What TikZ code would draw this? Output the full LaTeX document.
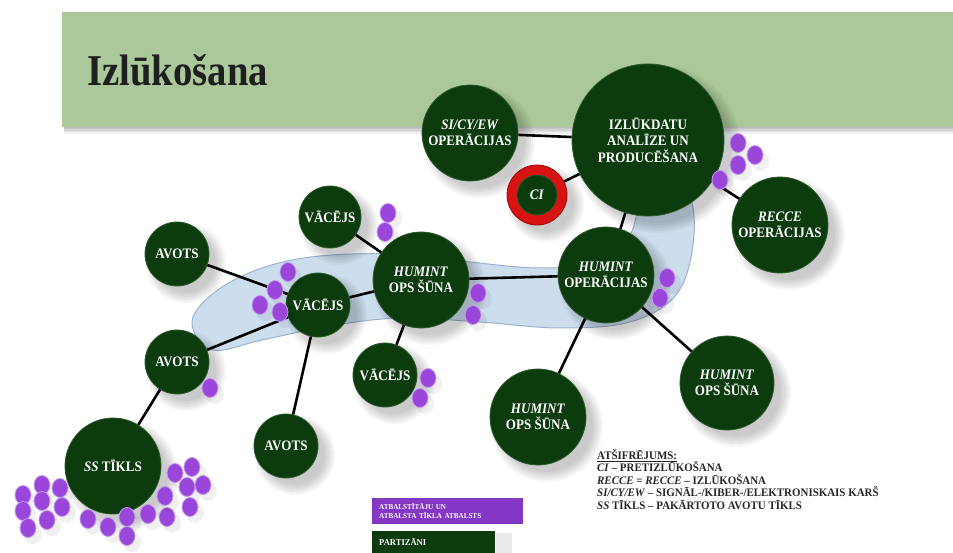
\documentclass[tikz,border=0pt]{standalone}
\usepackage{fontspec}
\setmainfont{Liberation Serif}
\newfontfamily\nf{Liberation Serif}[FakeStretch=0.9]
\newfontfamily\lf{Liberation Serif}[FakeStretch=0.95]
\newfontfamily\tf{Liberation Serif}[FakeStretch=0.88]
\usetikzlibrary{shapes.geometric}
\definecolor{dgreen}{HTML}{0C3B0E}
\definecolor{dedge}{HTML}{2E5A2E}
\definecolor{banner}{HTML}{AAC899}
\definecolor{bandf}{HTML}{CCDDEE}
\definecolor{bandd}{HTML}{98B3D0}
\definecolor{dotp}{HTML}{9A46DA}
\definecolor{dote}{HTML}{C49BEE}
\definecolor{boxp}{HTML}{8436C4}
\definecolor{cired}{HTML}{D91212}
\tikzset{
  gn/.style={circle, fill=dgreen, draw=dedge, line width=0.8pt, text=white, align=center,
    inner sep=0pt, minimum size=#1, font=\nf\bfseries\fontsize{14.5}{16.5}\selectfont},
  link/.style={line width=2.6pt, black},
  pdot/.style={fill=dotp, draw=dote, line width=0.8pt},
}
\begin{document}
\begin{tikzpicture}[x=1pt,y=-1pt]
\useasboundingbox (0,0) rectangle (953,553);
\fill[white] (0,0) rectangle (953,553);
% banner with shadow
\foreach \k in {0,...,4}{
  \fill[black,opacity=0.06] (64,14) rectangle (953,{128+1.5*\k});
}
\fill[banner] (62,12) rectangle (953,127);
\node[anchor=base west, inner sep=0pt, font=\tf\bfseries\fontsize{44}{44}\selectfont, text=black!88] (title) at (87,86) {Izlūkošana};
% blue band
\filldraw[fill=bandf, draw=bandd, line width=1pt] plot[smooth cycle, tension=0.6] coordinates {
  (192,322) (215,292) (262,268) (320,256) (400,254) (470,262) (540,268) (600,262)
  (630,235) (642,195) (665,170) (690,195) (693,245) (676,295) (630,322) (560,328)
  (480,322) (400,318) (330,326) (262,340) (212,350)};
% soft shadows
\foreach \x/\y/\r in {648/140/76, 470/133/48, 537/195/30, 780/225/48, 606/275/48, 421/280/48,
  538/417/48, 727/383/47, 330/217/31, 318/305/32, 385/375/32, 177/254/32, 177/362/32,
  286/446/32, 113/466/48}{
  \foreach \k in {0,...,5}{
    \pgfmathsetmacro\rr{\r+8-2*\k}
    \fill[black,opacity=0.035] (\x+9,\y+9) circle[radius=\rr pt];
  }
}
% nodes
\node[gn=152pt] (izl) at (648,140) {IZLŪKDATU\\ANALĪZE UN\\PRODUCĒŠANA};
\node[gn=96pt] (sig) at (470,133) {\textit{SI/CY/EW}\\OPERĀCIJAS};
\node[circle, fill=cired, draw=cired!70!black, line width=0.8pt, minimum size=60pt, inner sep=0pt] (cir) at (537,195) {};
\node[gn=40pt] (ci) at (537,195) {\textit{CI}};
\node[gn=96pt] (rec) at (780,225) {\textit{RECCE}\\OPERĀCIJAS};
\node[gn=96pt] (hop) at (606,275) {\textit{HUMINT}\\OPERĀCIJAS};
\node[gn=96pt] (hs1) at (421,280) {\textit{HUMINT}\\OPS ŠŪNA};
\node[gn=96pt] (hs2) at (538,417) {\textit{HUMINT}\\OPS ŠŪNA};
\node[gn=94pt] (hs3) at (727,383) {\textit{HUMINT}\\OPS ŠŪNA};
\node[gn=62pt] (v1) at (330,217) {VĀCĒJS};
\node[gn=64pt] (v2) at (318,305) {VĀCĒJS};
\node[gn=64pt] (v3) at (385,375) {VĀCĒJS};
\node[gn=64pt] (a1) at (177,254) {AVOTS};
\node[gn=64pt] (a2) at (177,362) {AVOTS};
\node[gn=64pt] (a3) at (286,446) {AVOTS};
\node[gn=96pt] (ss) at (113,466) {\textit{SS} TĪKLS};
% links
\draw[link] (sig) -- (izl);
\draw[link] (cir) -- (izl);
\draw[link] (izl) -- (rec);
\draw[link] (izl) -- (hop);
\draw[link] (hop) -- (hs1);
\draw[link] (hop) -- (hs2);
\draw[link] (hop) -- (hs3);
\draw[link] (hs1) -- (v1);
\draw[link] (hs1) -- (v2);
\draw[link] (hs1) -- (v3);
\draw[link] (v2) -- (a1);
\draw[link] (v2) -- (a2);
\draw[link] (v2) -- (a3);
\draw[link] (a2) -- (ss);
% purple dots
\foreach \x/\y in {738/143, 755/155, 738/165, 720/180,
  388/213, 385/232,
  288/272, 275/290, 260/305, 280/312,
  478/293, 473/315,
  667/278, 660/298,
  428/378, 420/398,
  210/388,
  23/495, 42/485, 60/488, 42/501, 62/507, 23/511, 47/520, 28/528, 88/519, 108/527,
  127/517, 127/536, 148/514, 167/517, 165/496, 175/473, 192/467, 187/487, 203/485, 190/507}{
  \fill[black,opacity=0.06] (\x+5,\y+6) ellipse[x radius=9pt, y radius=10pt];
  \filldraw[pdot] (\x,\y) ellipse[x radius=8pt, y radius=9.5pt];
}
% legend
\node[anchor=north west, align=left, inner sep=0pt, font=\lf\bfseries\fontsize{11.5}{12.6}\selectfont, text=black!85] (leg) at (597,449)
 {\underline{ATŠIFRĒJUMS:}\\
  \textit{CI} – PRETIZLŪKOŠANA\\
  \textit{RECCE} = \textit{RECCE} – IZLŪKOŠANA\\
  \textit{SI/CY/EW} – SIGNĀL-/KIBER-/ELEKTRONISKAIS KARŠ\\
  \textit{SS} TĪKLS – PAKĀRTOTO AVOTU TĪKLS};
% bottom key boxes
\fill[black,opacity=0.08] (496,533) rectangle (512,553);
\node[anchor=north west, fill=boxp, text=white, align=left, text width=137pt, inner xsep=7pt, inner ysep=0pt,
  minimum height=26pt, font=\lf\bfseries\fontsize{7.5}{9}\selectfont] (pb) at (372,498)
  {ATBALSTĪTĀJU UN\\ATBALSTA TĪKLA ATBALSTS};
\node[anchor=north west, fill=dgreen, text=white, align=left, text width=109pt, inner xsep=7pt, inner ysep=0pt,
  minimum height=22pt, font=\lf\bfseries\fontsize{9}{10}\selectfont] (gb) at (372,531) {PARTIZĀNI};
\end{tikzpicture}
\end{document}
